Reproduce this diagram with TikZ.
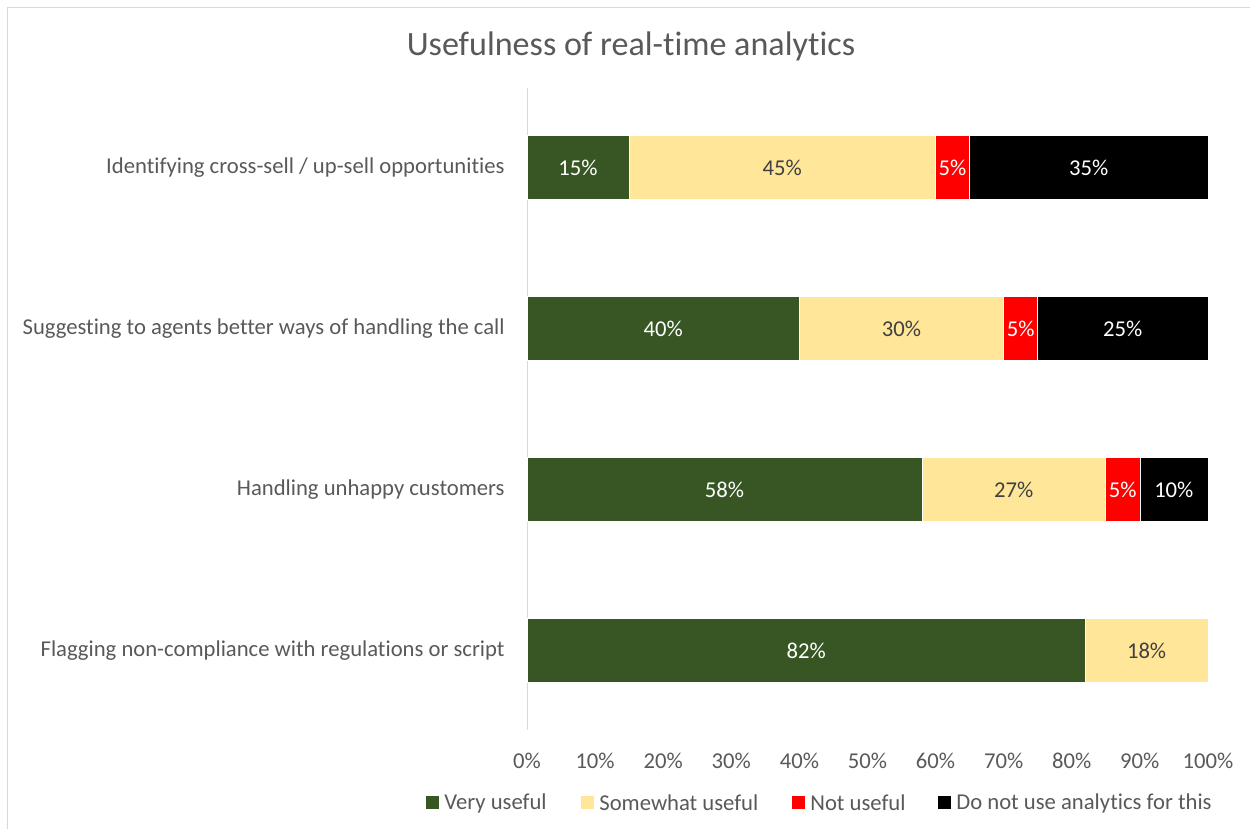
\documentclass[tikz,border=0pt]{standalone}
\usepackage{fontspec}
\setmainfont[Ligatures=NoCommon]{Carlito}
\usetikzlibrary{positioning}
\definecolor{veryuse}{HTML}{375623}
\definecolor{someuse}{HTML}{FFE699}
\definecolor{txtgray}{HTML}{595959}
\definecolor{bartxt}{HTML}{404040}
\definecolor{linegray}{HTML}{D9D9D9}
\tikzset{
  catlabel/.style={anchor=east, inner sep=0pt, text=txtgray, font=\fontsize{12.9}{15}\selectfont},
  ticklabel/.style={inner sep=0pt, text=txtgray, font=\fontsize{12.9}{15}\selectfont},
  barlabel/.style={inner sep=0pt, text=white, font=\fontsize{12.9}{15}\selectfont},
  legbox/.style={minimum size=0.26cm, inner sep=0pt},
  legtext/.style={anchor=west, inner sep=0pt, text=txtgray, font=\fontsize{12.9}{15}\selectfont},
  seg/.style={draw=white, line width=0.3pt}
}
\begin{document}
\begin{tikzpicture}[x=0.02cm, y=-0.02cm]
\useasboundingbox (0,0) rectangle (1250,829);
% Frame and axis
\draw[linegray] (7.5,829) -- (7.5,7.5) -- (1250,7.5);
\draw[linegray] (527,88) -- (527,730);
% Title
\node[text=txtgray, font=\fontsize{19.4}{23}\selectfont] (title) at (631,46)
  {Usefulness of real-time analytics};
% Categories
\node[catlabel] (catA) at (505,168) {Identifying cross-sell / up-sell opportunities};
\node[catlabel] (catB) at (505,329) {Suggesting to agents better ways of handling the call};
\node[catlabel] (catC) at (505,490) {Handling unhappy customers};
\node[catlabel] (catD) at (505,651) {Flagging non-compliance with regulations or script};
\begin{scope}[shift={(527,0)}, x=0.1362cm]
% Bars, row A
\fill[veryuse, seg] (0,135) rectangle (15,199);
\fill[someuse, seg] (15,135) rectangle (60,199);
\fill[red, seg] (60,135) rectangle (65,199);
\fill[black, seg] (65,135) rectangle (100,199);
% Bars, row B
\fill[veryuse, seg] (0,296) rectangle (40,360);
\fill[someuse, seg] (40,296) rectangle (70,360);
\fill[red, seg] (70,296) rectangle (75,360);
\fill[black, seg] (75,296) rectangle (100,360);
% Bars, row C
\fill[veryuse, seg] (0,457) rectangle (58,521);
\fill[someuse, seg] (58,457) rectangle (85,521);
\fill[red, seg] (85,457) rectangle (90,521);
\fill[black, seg] (90,457) rectangle (100,521);
% Bars, row D
\fill[veryuse, seg] (0,618) rectangle (82,682);
\fill[someuse, seg] (82,618) rectangle (100,682);
% Bar labels
\node[barlabel] (vA) at (7.5,168) {15\%};
\node[barlabel, text=bartxt] (sA) at (37.5,168) {45\%};
\node[barlabel] (nA) at (62.5,168) {5\%};
\node[barlabel] (dA) at (82.5,168) {35\%};
\node[barlabel] (vB) at (20,329) {40\%};
\node[barlabel, text=bartxt] (sB) at (55,329) {30\%};
\node[barlabel] (nB) at (72.5,329) {5\%};
\node[barlabel] (dB) at (87.5,329) {25\%};
\node[barlabel] (vC) at (29,490) {58\%};
\node[barlabel, text=bartxt] (sC) at (71.5,490) {27\%};
\node[barlabel] (nC) at (87.5,490) {5\%};
\node[barlabel] (dC) at (95,490) {10\%};
\node[barlabel] (vD) at (41,651) {82\%};
\node[barlabel, text=bartxt] (sD) at (91,651) {18\%};
% Axis ticks
\node[ticklabel] (t0) at (0,761) {0\%};
\node[ticklabel] (t1) at (10,761) {10\%};
\node[ticklabel] (t2) at (20,761) {20\%};
\node[ticklabel] (t3) at (30,761) {30\%};
\node[ticklabel] (t4) at (40,761) {40\%};
\node[ticklabel] (t5) at (50,761) {50\%};
\node[ticklabel] (t6) at (60,761) {60\%};
\node[ticklabel] (t7) at (70,761) {70\%};
\node[ticklabel] (t8) at (80,761) {80\%};
\node[ticklabel] (t9) at (90,761) {90\%};
\node[ticklabel] (t10) at (100,761) {100\%};
\end{scope}
% Legend
\node[legbox, fill=veryuse] (lgvery) at (432.5,802) {};
\node[legtext] (ltvery) at (444,803) {Very useful};
\node[legbox, fill=someuse] (lgsome) at (587.5,802) {};
\node[legtext] (ltsome) at (599,803) {Somewhat useful};
\node[legbox, fill=red] (lgnot) at (798.5,802) {};
\node[legtext] (ltnot) at (810,803) {Not useful};
\node[legbox, fill=black] (lgdont) at (944.5,802) {};
\node[legtext] (ltdont) at (956,803) {Do not use analytics for this};
\end{tikzpicture}
\end{document}
